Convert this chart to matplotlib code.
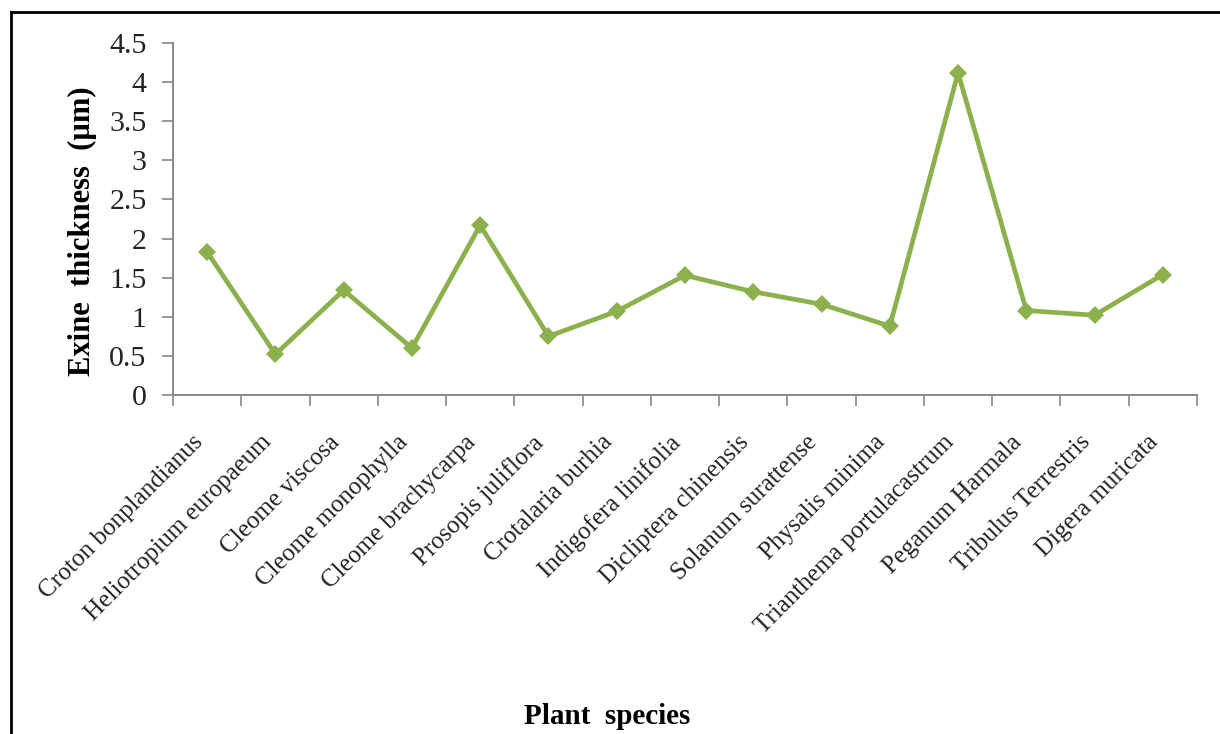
import numpy as np
import matplotlib
matplotlib.use('Agg')
import matplotlib.pyplot as plt
from matplotlib.lines import Line2D

################### data ##################
species = ['Croton bonplandianus', 'Heliotropium europaeum', 'Cleome viscosa',
           'Cleome monophylla', 'Cleome brachycarpa', 'Prosopis juliflora',
           'Crotalaria burhia', 'Indigofera linifolia', 'Dicliptera chinensis',
           'Solanum surattense', 'Physalis minima', 'Trianthema portulacastrum',
           'Peganum Harmala', 'Tribulus Terrestris', 'Digera muricata']
exine = [1.83, 0.52, 1.34, 0.60, 2.17, 0.75, 1.07, 1.53, 1.32, 1.16,
         0.88, 4.12, 1.08, 1.02, 1.54]
yticks = [0, 0.5, 1, 1.5, 2, 2.5, 3, 3.5, 4, 4.5]
ytick_labels = ['0', '0.5', '1', '1.5', '2', '2.5', '3', '3.5', '4', '4.5']

plt.rcParams['font.family'] = ['Liberation Serif', 'DejaVu Serif']

################### line chart ##################
fig = plt.figure(figsize=(12.2, 7.34), dpi=100)
ax = fig.add_axes([173/1220, 1 - 395/734, (1197 - 173)/1220, (395 - 43)/734])

x = np.arange(len(species))
ax.plot(x, exine, color='#8cb04c', linewidth=3.4, marker='D', markersize=9,
        markeredgewidth=0, zorder=3)

ax.set_xlim(-0.5, len(species) - 0.5)
ax.set_ylim(0, 4.5)

# tick marks between categories, labels at category centres
ax.set_xticks(np.arange(len(species) + 1) - 0.5)
ax.set_xticklabels([])
ax.set_xticks(x, minor=True)
ax.set_xticklabels(species, minor=True, rotation=45, ha='right', va='top',
                   fontsize=18, color='#222222')
ax.tick_params(axis='x', which='minor', length=0, pad=26)
ax.tick_params(axis='x', which='major', length=8, width=1.2, color='#888888')

ax.set_yticks(yticks)
ax.set_yticklabels(ytick_labels, fontsize=21.5, color='#222222')
ax.tick_params(axis='y', length=8, width=1.2, color='#888888', pad=11)

for side in ['top', 'right']:
    ax.spines[side].set_visible(False)
for side in ['left', 'bottom']:
    ax.spines[side].set_color('#888888')
    ax.spines[side].set_linewidth(1.4)

ax.set_ylabel('Exine  thickness  (µm)', fontsize=22, fontweight='bold')
ax.yaxis.set_label_coords(-0.074, 0.466)
fig.text(607/1220, 1 - 716/734, 'Plant  species', fontsize=21, fontweight='bold',
         ha='center', va='center')

# frame lines of the original figure (top and left only)
fig.add_artist(Line2D([11/1220, 11/1220], [0, 1 - 12/734], color='black',
                      linewidth=2, transform=fig.transFigure))
fig.add_artist(Line2D([11/1220, 1], [1 - 12/734, 1 - 12/734], color='black',
                      linewidth=2, transform=fig.transFigure))

plt.savefig('out.png', dpi=100)
